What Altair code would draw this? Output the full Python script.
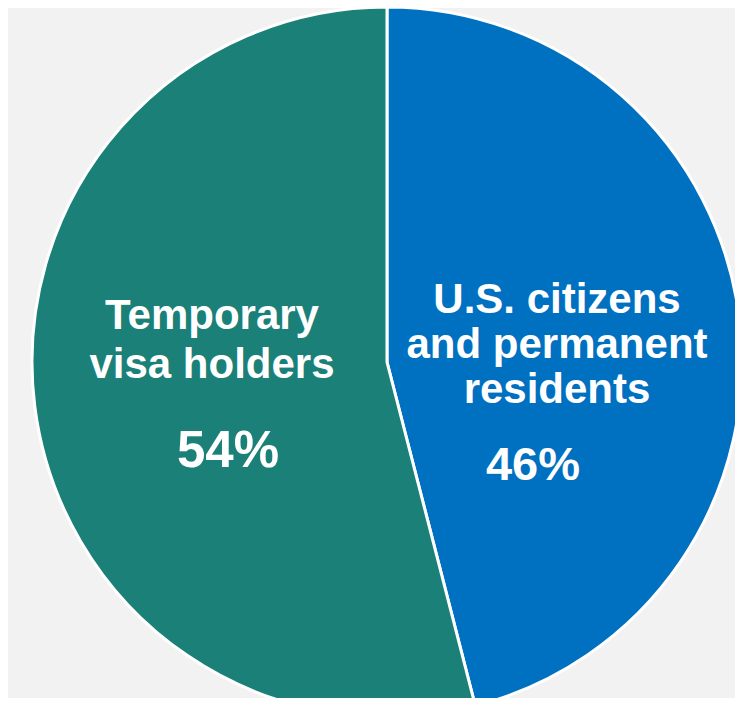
import altair as alt
import pandas as pd

categories = ["U.S. citizens and permanent residents", "Temporary visa holders"]
shares = [46, 54]
pct_labels = ["46%", "54%"]
colors = ["#0070c0", "#1a8078"]

df = pd.DataFrame({"category": categories, "share": shares, "order": [0, 1]})

W, H = 727, 690
CX, CY, R = 379, 354, 355
FONT = "Liberation Sans"

pie = alt.Chart(df).mark_arc(stroke="white", strokeWidth=3, radius=R).encode(
    theta=alt.Theta("share:Q", stack=True),
    order=alt.Order("order:Q"),
    color=alt.Color("category:N", scale=alt.Scale(domain=categories, range=colors), legend=None),
    x=alt.value(CX),
    y=alt.value(CY),
)

base = alt.Chart(pd.DataFrame({"a": [0]}))


def label(text, x, y, size, line_height=None):
    kw = dict(font=FONT, fontWeight="bold", fontSize=size, align="center", baseline="alphabetic",
              color="white")
    if line_height:
        kw["lineHeight"] = line_height
    return base.mark_text(**kw).encode(x=alt.value(x), y=alt.value(y), text=alt.value(text))


layers = [
    pie,
    label(["Temporary", "visa holders"], 204, 321, 42, 49),
    label(pct_labels[1], 220, 459, 51),
    label(["U.S. citizens", "and permanent", "residents"], 549, 305, 42, 45),
    label(pct_labels[0], 525, 472, 47),
]

chart = alt.layer(*layers).properties(
    width=W,
    height=H,
    background="#f2f2f2",
    padding=0,
    autosize=alt.AutoSizeParams(type="none"),
).configure_view(stroke=None)

chart.save("out.html", embed_options={"renderer": "svg", "actions": False})
